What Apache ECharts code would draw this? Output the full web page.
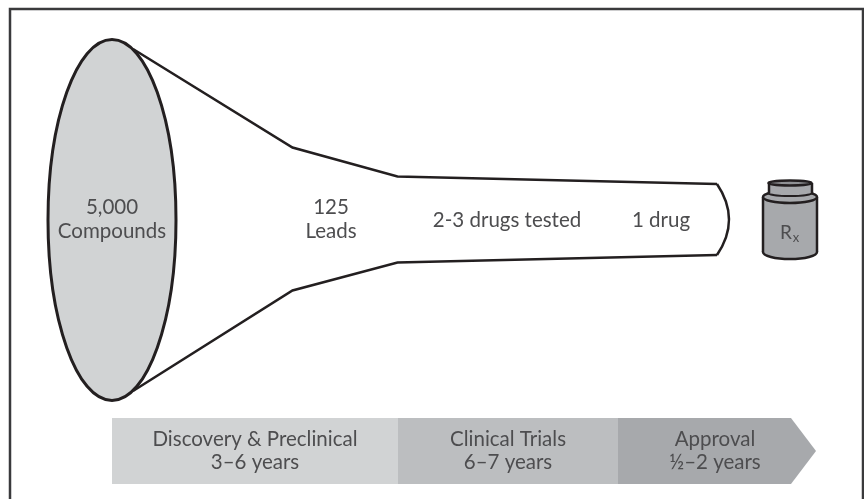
<!DOCTYPE html>
<html>
<head>
<meta charset="utf-8">
<style>
html, body { margin: 0; padding: 0; background: #fff; }
#main { width: 864px; height: 499px; }
</style>
<script src="https://cdn.jsdelivr.net/npm/echarts@6/dist/echarts.min.js"></script>
</head>
<body>
<div id="main"></div>
<script>
// funnel outline (axis units match the 864x499 image)
var funnelX = [133, 292.5, 397.5, 717];
var funnelTop = [49, 147.5, 176.5, 184];
var funnelBottom = [391, 290.5, 262.5, 255];

// the mouth of the funnel (ellipse) and the closing curve at the thin end
var mouth = [112, 220, 64, 180.5];
var capBulge = 741;

// frame: only left, top and right sides show, it runs off the bottom
var frameX = [10, 10, 863, 863];
var frameY = [499, 9, 9, 499];

// labels along the funnel
var funnelLabels = ['5,000', 'Compounds', '125', 'Leads', '2-3 drugs tested', '1 drug'];
var funnelLabelX = [112, 112, 331, 331, 507, 661];
var funnelLabelY = [207, 231, 207, 231, 220, 220];

// timeline
var stageNames = ['Discovery & Preclinical', 'Clinical Trials', 'Approval'];
var stageYears = ['3–6 years', '6–7 years', '½–2 years'];
var stageStart = [112, 398, 618];
var stageEnd = [398, 618, 791];
var stageLabelX = [255, 508, 715];
var stageTip = 816;
var stageColors = ['#d1d3d4', '#bcbec0', '#a7a9ac'];

var INK = '#231f20';
var TEXT = '#4d4d4f';
var FONT = 'Lato';

var chart = echarts.init(document.getElementById('main'));

function lineSeries(xs, ys, width, color) {
	return {
		type: 'line',
		data: xs.map(function(x, i) { return [x, ys[i]]; }),
		showSymbol: false,
		silent: true,
		animation: false,
		z: 3,
		lineStyle: { color: color, width: width, join: 'miter', cap: 'butt' }
	};
}

function textEl(api, str, x, y, size) {
	var p = api.coord([x, y]);
	return {
		type: 'text',
		x: p[0],
		y: p[1],
		style: {
			text: str,
			fontFamily: FONT,
			fontSize: size,
			fill: TEXT,
			align: 'center',
			verticalAlign: 'middle'
		}
	};
}

function ellipseEl(api, cx, cy, rx, ry, fill, width) {
	var c = api.coord([cx, cy]);
	var s = api.size([rx, ry]);
	return {
		type: 'ellipse',
		shape: { cx: c[0], cy: c[1], rx: s[0], ry: s[1] },
		style: { fill: fill, stroke: width ? INK : null, lineWidth: width }
	};
}

function rectEl(api, x0, y0, x1, y1, fill) {
	var a = api.coord([x0, y0]);
	var b = api.coord([x1, y1]);
	return {
		type: 'rect',
		shape: { x: a[0], y: a[1], width: b[0] - a[0], height: b[1] - a[1] },
		style: { fill: fill }
	};
}

function segEl(api, x0, y0, x1, y1, width) {
	var a = api.coord([x0, y0]);
	var b = api.coord([x1, y1]);
	return {
		type: 'line',
		shape: { x1: a[0], y1: a[1], x2: b[0], y2: b[1] },
		style: { stroke: INK, lineWidth: width }
	};
}

// mouth ellipse, cap curve and funnel labels
function renderFunnel(params, api) {
	var n = funnelX.length - 1;
	var a = api.coord([funnelX[n], funnelTop[n]]);
	var b = api.coord([funnelX[n], funnelBottom[n]]);
	var cp = api.coord([capBulge, (funnelTop[n] + funnelBottom[n]) / 2]);
	var kids = [
		ellipseEl(api, mouth[0], mouth[1], mouth[2], mouth[3], '#d1d3d4', 3),
		{
			type: 'bezierCurve',
			shape: { x1: a[0], y1: a[1], x2: b[0], y2: b[1], cpx1: cp[0], cpy1: cp[1] },
			style: { stroke: INK, lineWidth: 2.5, fill: null }
		}
	];
	funnelLabels.forEach(function(t, i) {
		kids.push(textEl(api, t, funnelLabelX[i], funnelLabelY[i], 20.5));
	});
	return { type: 'group', children: kids };
}

// the Rx bottle at the end of the funnel
function renderBottle(params, api) {
	var g = '#a7a9ac';
	return {
		type: 'group',
		children: [
			ellipseEl(api, 790, 252, 27, 7, g, 2.5),
			rectEl(api, 763, 197, 817, 252, g),
			segEl(api, 763, 197, 763, 252, 2.5),
			segEl(api, 817, 197, 817, 252, 2.5),
			ellipseEl(api, 790, 197, 27, 6, g, 2.5),
			ellipseEl(api, 790, 193, 21.5, 3, g, 2),
			rectEl(api, 769, 183, 812, 193, g),
			segEl(api, 769, 183, 769, 193, 2.5),
			segEl(api, 812, 183, 812, 193, 2.5),
			ellipseEl(api, 790, 183, 21.5, 2.5, '#8f9194', 2.5),
			textEl(api, 'R', 786, 233, 19),
			textEl(api, 'x', 796, 238, 13)
		]
	};
}

// one timeline block per stage, the last one ends in an arrow tip
function renderStage(params, api) {
	var i = params.dataIndex;
	var top = 418, bottom = 484, mid = (top + bottom) / 2;
	var pts = [[stageStart[i], top], [stageEnd[i], top]];
	if (i === stageStart.length - 1) {
		pts.push([stageTip, mid]);
	}
	pts.push([stageEnd[i], bottom], [stageStart[i], bottom]);
	return {
		type: 'group',
		children: [
			{
				type: 'polygon',
				shape: { points: pts.map(function(p) { return api.coord(p); }) },
				style: { fill: stageColors[i] }
			},
			textEl(api, stageNames[i], stageLabelX[i], 439, 20.5),
			textEl(api, stageYears[i], stageLabelX[i], 462, 20.5)
		]
	};
}

var option = {
	animation: false,
	backgroundColor: '#fff',
	grid: { left: 0, right: 0, top: 0, bottom: 0 },
	xAxis: { type: 'value', min: 0, max: 864, show: false },
	yAxis: { type: 'value', min: 0, max: 499, inverse: true, show: false },
	series: [
		lineSeries(frameX, frameY, 2.5, '#3a3a3c'),
		{
			type: 'custom',
			renderItem: renderFunnel,
			data: [[mouth[0], mouth[1]]],
			clip: false,
			silent: true,
			z: 2
		},
		lineSeries(funnelX, funnelTop, 2.5, INK),
		lineSeries(funnelX, funnelBottom, 2.5, INK),
		{
			type: 'custom',
			renderItem: renderBottle,
			data: [[790, 220]],
			clip: false,
			silent: true,
			z: 2
		},
		{
			type: 'custom',
			renderItem: renderStage,
			data: stageStart.map(function(x, i) { return [x, stageEnd[i]]; }),
			clip: false,
			silent: true,
			z: 2
		}
	]
};
chart.setOption(option);
</script>
</body>
</html>
